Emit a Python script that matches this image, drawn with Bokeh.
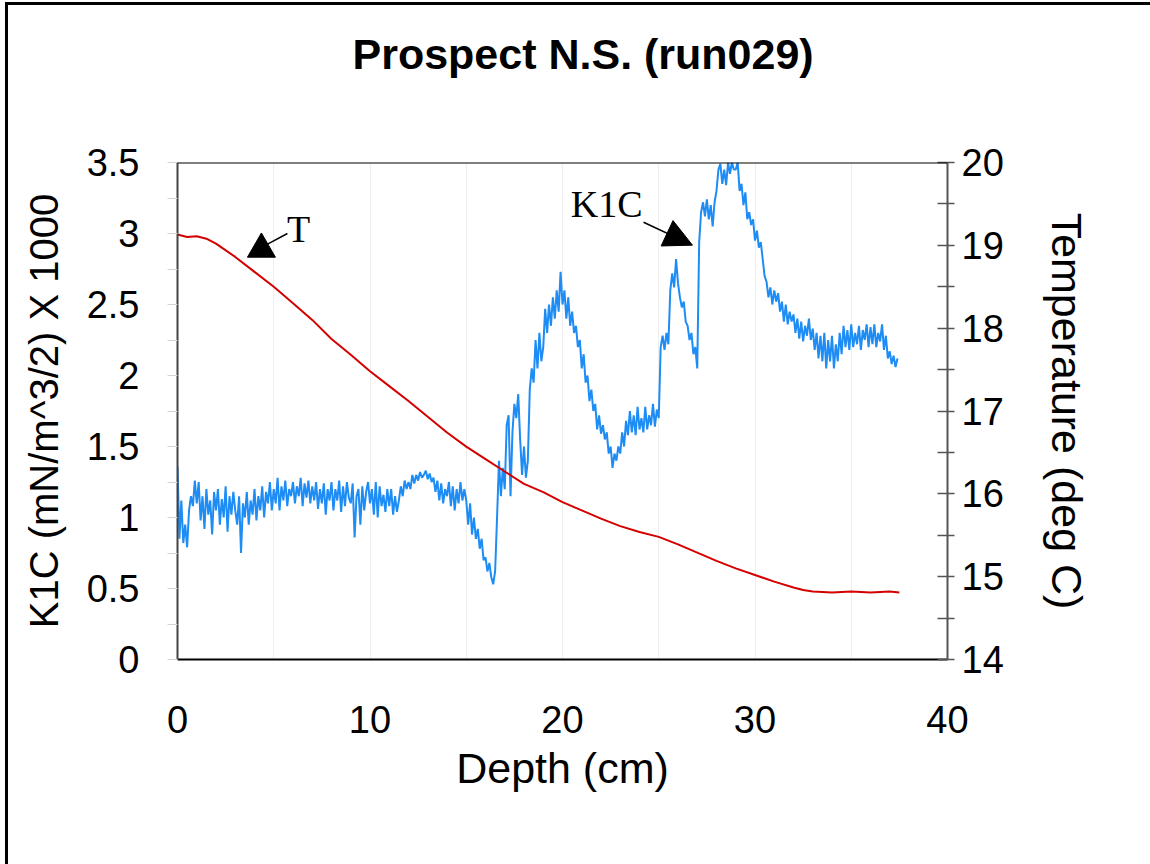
from bokeh.plotting import figure
from bokeh.models import Range1d, LinearAxis, FixedTicker, Span, Label, Arrow, NormalHead
from bokeh.embed import file_html
from bokeh.resources import INLINE

# ---------------- texts ----------------
title_text = "Prospect N.S. (run029)"
x_label = "Depth (cm)"
y_left_label = "K1C (mN/m^3/2) X 1000"
y_right_label = "Temperature (deg C)"
t_note_text = "T"
k1c_note_text = "K1C"

# ---------------- ticks ----------------
x_ticks = [0, 10, 20, 30, 40]
x_tick_labels = ["0", "10", "20", "30", "40"]
x_grid_ticks = [0, 5, 10, 15, 20, 25, 30, 35, 40]
k1c_ticks = [0, 0.5, 1, 1.5, 2, 2.5, 3, 3.5]
k1c_tick_labels = ["0", "0.5", "1", "1.5", "2", "2.5", "3", "3.5"]
k1c_minor_ticks = [0.25, 0.75, 1.25, 1.75, 2.25, 2.75, 3.25]
temp_ticks = [14, 15, 16, 17, 18, 19, 20]
temp_tick_labels = ["14", "15", "16", "17", "18", "19", "20"]
temp_minor_ticks = [14.5, 15.5, 16.5, 17.5, 18.5, 19.5]

# ---------------- data ----------------
# K1C (x1000), sampled every 0.1 cm of depth, one row per cm
k1c_step = 0.1
k1c_values = [
    1.36, 0.85, 1.12, 0.82, 0.95, 0.79, 1.05, 1.15, 1.08, 1.26,
    1.10, 1.25, 0.98, 1.15, 0.92, 1.20, 1.02, 1.12, 0.88, 1.18,
    1.05, 1.20, 0.95, 1.13, 1.00, 1.22, 0.90, 1.15, 1.02, 1.18,
    1.05, 0.95, 1.15, 0.75, 1.10, 1.00, 1.18, 0.95, 1.12, 1.02,
    1.20, 0.98, 1.15, 1.05, 1.22, 1.00, 1.18, 1.10, 1.25, 1.05,
    1.20, 1.10, 1.28, 1.05, 1.22, 1.12, 1.26, 1.08, 1.20, 1.15,
    1.25, 1.10, 1.22, 1.15, 1.28, 1.08, 1.24, 1.14, 1.26, 1.10,
    1.22, 1.12, 1.25, 1.06, 1.20, 1.10, 1.24, 1.02, 1.20, 1.12,
    1.25, 1.05, 1.20, 1.12, 1.26, 1.04, 1.22, 1.08, 1.25, 1.14,
    1.10, 1.24, 0.86, 1.15, 1.20, 0.95, 1.22, 1.05, 1.18, 1.25,
    1.10, 1.20, 1.02, 1.25, 1.00, 1.22, 1.08, 1.16, 1.04, 1.20,
    1.08, 1.20, 1.02, 1.15, 1.04, 1.12, 1.22, 1.15, 1.26, 1.20,
    1.25, 1.20, 1.30, 1.24, 1.30, 1.26, 1.32, 1.28, 1.30, 1.33,
    1.27, 1.31, 1.25, 1.28, 1.18, 1.26, 1.12, 1.24, 1.10, 1.20,
    1.15, 1.25, 1.08, 1.22, 1.05, 1.20, 1.10, 1.25, 1.12, 1.20,
    1.12, 0.95, 1.10, 0.88, 1.00, 0.85, 0.92, 0.78, 0.85, 0.70,
    0.72, 0.62, 0.68, 0.58, 0.53, 0.62, 1.00, 1.40, 1.15, 1.35,
    1.20, 1.65, 1.72, 1.15, 1.60, 1.80, 1.70, 1.87, 1.55, 1.30,
    1.50, 1.28, 1.40, 1.90, 2.05, 1.95, 2.25, 2.05, 2.30, 2.10,
    2.20, 2.47, 2.30, 2.50, 2.35, 2.55, 2.40, 2.60, 2.45, 2.73,
    2.50, 2.60, 2.40, 2.55, 2.35, 2.45, 2.30, 2.35, 2.20, 2.25,
    2.05, 2.15, 1.95, 2.00, 1.82, 1.90, 1.75, 1.80, 1.62, 1.72,
    1.59, 1.65, 1.55, 1.60, 1.45, 1.50, 1.35, 1.45, 1.40, 1.50,
    1.45, 1.60, 1.50, 1.68, 1.58, 1.75, 1.60, 1.72, 1.58, 1.78,
    1.62, 1.70, 1.60, 1.78, 1.62, 1.72, 1.65, 1.80, 1.64, 1.76,
    1.70, 2.20, 2.28, 2.18, 2.30, 2.22, 2.60, 2.72, 2.62, 2.82,
    2.65, 2.55, 2.48, 2.52, 2.38, 2.35, 2.25, 2.30, 2.15, 2.20,
    2.05, 2.94, 3.15, 3.22, 3.12, 3.24, 3.10, 3.20, 3.05, 3.22,
    3.30, 3.45, 3.49, 3.35, 3.45, 3.34, 3.50, 3.42, 3.50, 3.45,
    3.45, 3.50, 3.30, 3.35, 3.20, 3.29, 3.10, 3.15, 3.06, 3.10,
    2.95, 3.02, 2.90, 2.94, 2.82, 2.70, 2.66, 2.55, 2.62, 2.50,
    2.60, 2.52, 2.58, 2.45, 2.52, 2.38, 2.50, 2.36, 2.45, 2.38,
    2.43, 2.30, 2.40, 2.26, 2.38, 2.24, 2.35, 2.28, 2.40, 2.25,
    2.33, 2.18, 2.30, 2.12, 2.28, 2.10, 2.30, 2.05, 2.25, 2.10,
    2.28, 2.05, 2.22, 2.10, 2.30, 2.15, 2.35, 2.20, 2.32, 2.18,
    2.36, 2.20, 2.30, 2.22, 2.35, 2.18, 2.32, 2.25, 2.36, 2.20,
    2.34, 2.22, 2.36, 2.20, 2.30, 2.24, 2.36, 2.18, 2.28, 2.12,
    2.17, 2.08, 2.14, 2.06, 2.12,
]
k1c_depth = [round(i * k1c_step, 1) for i in range(len(k1c_values))]

# Temperature (deg C)
temp_depth = [0, 0.5, 1, 1.5, 2, 3, 4, 5, 6, 7, 8, 9, 10, 11, 12, 13, 14, 15, 16,
              17, 18, 19, 20, 21, 22, 23, 24, 25, 26, 27, 28, 29, 30, 31, 32, 32.5,
              33, 34, 35, 36, 37, 37.5]
temp_values = [19.13, 19.10, 19.11, 19.08, 19.02, 18.86, 18.68, 18.50, 18.30, 18.10,
               17.87, 17.68, 17.48, 17.30, 17.12, 16.93, 16.74, 16.57, 16.42, 16.27,
               16.12, 16.02, 15.90, 15.80, 15.70, 15.61, 15.54, 15.48, 15.39, 15.29,
               15.19, 15.10, 15.02, 14.94, 14.87, 14.84, 14.82, 14.81, 14.82, 14.81,
               14.82, 14.81]

# annotation anchors (data units, left axis)
t_note_xy = (6.29, 3.03)
t_marker_xy = (4.36, 2.89)
t_leader = (4.68, 2.925, 5.71, 3.0)
k1c_note_xy = (22.29, 3.21)
k1c_arrow = (24.21, 3.079, 26.75, 2.918)

SANS = "Liberation Sans"
SERIF = "Liberation Serif"
W, H = 1150, 864

p = figure(width=W, height=H, x_range=Range1d(0, 40), y_range=Range1d(0, 3.5),
           output_backend="svg", toolbar_location=None,
           min_border_left=177, min_border_right=203, min_border_top=160, min_border_bottom=205)
p.extra_y_ranges = {"temp": Range1d(14, 20)}
p.outline_line_color = None
p.background_fill_color = "white"
p.border_fill_color = None
# picture frame: dark edge along the left and top of the image
p.styles = {"background-color": "white",
            "box-shadow": "inset 5px 2px 0 0 white, inset 8px 5px 0 0 black"}

# title: a blank second line lifts it well above the frame
p.title.text = title_text + "\n "
p.title.align = "left"
p.title.offset = 175
p.title.vertical_align = "bottom"
p.title.standoff = 54
p.title.text_line_height = 1.2
p.title.text_font = SANS
p.title.text_font_size = "43px"
p.title.text_font_style = "bold"
p.title.text_color = "black"

p.ygrid.visible = False
p.xgrid.ticker = FixedTicker(ticks=x_grid_ticks)
p.xgrid.grid_line_color = "#eeeeee"
p.xgrid.grid_line_width = 1

xa = p.xaxis[0]
xa.ticker = FixedTicker(ticks=x_ticks, minor_ticks=[])
xa.major_label_overrides = dict(zip(x_ticks, x_tick_labels))
xa.axis_label = x_label
xa.axis_line_color = "black"
xa.axis_line_width = 2
xa.major_tick_in = 0
xa.major_tick_out = 0
xa.minor_tick_line_color = None
xa.major_label_standoff = 46
xa.major_label_text_font = SANS
xa.major_label_text_font_size = "38px"
xa.major_label_text_color = "black"
xa.axis_label_text_font = SANS
xa.axis_label_text_font_size = "43px"
xa.axis_label_text_font_style = "normal"
xa.axis_label_text_color = "black"
xa.axis_label_standoff = 8

ya = p.yaxis[0]
ya.ticker = FixedTicker(ticks=k1c_ticks, minor_ticks=k1c_minor_ticks)
ya.major_label_overrides = dict(zip(k1c_ticks, k1c_tick_labels))
ya.axis_label = y_left_label
ya.axis_line_color = "#444444"
ya.axis_line_width = 2
ya.major_tick_in = 0
ya.major_tick_out = 10
ya.major_tick_line_color = "#d4d4d4"
ya.minor_tick_in = 0
ya.minor_tick_out = 10
ya.minor_tick_line_color = "#d4d4d4"
ya.major_label_standoff = 28
ya.major_label_text_font = SANS
ya.major_label_text_font_size = "38px"
ya.major_label_text_color = "black"
ya.axis_label_text_font = SANS
ya.axis_label_text_font_size = "40px"
ya.axis_label_text_font_style = "normal"
ya.axis_label_text_color = "black"
ya.axis_label_standoff = 18

ra = LinearAxis(y_range_name="temp",
                ticker=FixedTicker(ticks=temp_ticks, minor_ticks=temp_minor_ticks))
ra.major_label_overrides = dict(zip(temp_ticks, temp_tick_labels))
ra.axis_label = y_right_label
ra.axis_line_color = "#555555"
ra.axis_line_width = 2
ra.major_tick_in = 10
ra.major_tick_out = 7
ra.major_tick_line_color = "#555555"
ra.major_tick_line_width = 1.5
ra.minor_tick_in = 10
ra.minor_tick_out = 7
ra.minor_tick_line_color = "#555555"
ra.minor_tick_line_width = 1.5
ra.major_label_standoff = 7
ra.major_label_text_font = SANS
ra.major_label_text_font_size = "38px"
ra.major_label_text_color = "black"
ra.axis_label_text_font = SANS
ra.axis_label_text_font_size = "43px"
ra.axis_label_text_font_style = "normal"
ra.axis_label_text_color = "black"
ra.axis_label_standoff = 36
p.add_layout(ra, "right")

p.add_layout(Span(location=k1c_ticks[-1], dimension="width", line_color="black", line_width=2))

p.line(k1c_depth, k1c_values, line_color="#1e8cf5", line_width=2)
p.line(temp_depth, temp_values, y_range_name="temp", line_color="#d40000", line_width=2)

# annotations
p.add_layout(Label(x=t_note_xy[0], y=t_note_xy[1], text=t_note_text, text_font=SERIF,
                   text_font_size="38px", text_align="center", text_baseline="middle",
                   text_color="black"))
p.scatter([t_marker_xy[0]], [t_marker_xy[1]], marker="triangle", size=28, color="black")
p.segment(x0=[t_leader[0]], y0=[t_leader[1]], x1=[t_leader[2]], y1=[t_leader[3]],
          line_color="black", line_width=1.5)
p.add_layout(Label(x=k1c_note_xy[0], y=k1c_note_xy[1], text=k1c_note_text, text_font=SERIF,
                   text_font_size="38px", text_align="center", text_baseline="middle",
                   text_color="black"))
p.add_layout(Arrow(end=NormalHead(size=28, fill_color="black", line_color="black"),
                   x_start=k1c_arrow[0], y_start=k1c_arrow[1],
                   x_end=k1c_arrow[2], y_end=k1c_arrow[3],
                   line_color="black", line_width=1.5))

open("out.html", "w").write(file_html(p, INLINE))
